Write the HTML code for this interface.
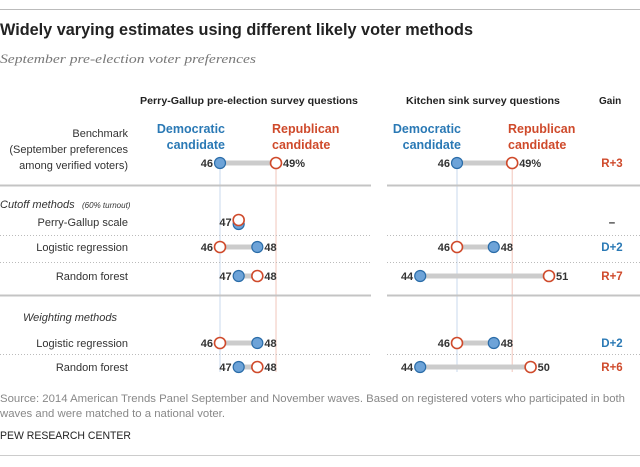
<!DOCTYPE html>
<html><head><meta charset="utf-8"><style>
body{margin:0;background:#fff;}
svg{display:block;font-family:"Liberation Sans",sans-serif;}
</style></head><body>
<svg id="c" width="640" height="467" viewBox="0 0 640 467">
<line x1="0" y1="9.5" x2="640" y2="9.5" stroke="#bbb"/>
<text x="0" y="35" font-size="17" font-weight="bold" fill="#222" textLength="473" lengthAdjust="spacingAndGlyphs">Widely varying estimates using different likely voter methods</text>
<text x="0" y="63" font-size="13" font-style="italic" fill="#777" font-family="Liberation Serif,serif" textLength="256" lengthAdjust="spacingAndGlyphs">September pre-election voter preferences</text>
<text x="140" y="104" font-size="10" font-weight="bold" fill="#222" textLength="218" lengthAdjust="spacingAndGlyphs">Perry-Gallup pre-election survey questions</text>
<text x="406" y="104" font-size="10" font-weight="bold" fill="#222" textLength="154" lengthAdjust="spacingAndGlyphs">Kitchen sink survey questions</text>
<text x="599" y="104" font-size="10" font-weight="bold" fill="#222">Gain</text>
<g id="g"></g>
<text x="0" y="402" font-size="11" fill="#888" textLength="625" lengthAdjust="spacingAndGlyphs">Source: 2014 American Trends Panel September and November waves. Based on registered voters who participated in both</text>
<text x="0" y="417" font-size="11" fill="#888" textLength="225" lengthAdjust="spacingAndGlyphs">waves and were matched to a national voter.</text>
<text x="0" y="439" font-size="11" fill="#222" textLength="131" lengthAdjust="spacingAndGlyphs">PEW RESEARCH CENTER</text>
<line x1="0" y1="455.5" x2="640" y2="455.5" stroke="#ccc"/>
</svg>
<script>
const rowLabels=["Benchmark","Perry-Gallup scale","Logistic regression","Random forest","Logistic regression","Random forest"];
const rowY=[163,222,247,276,343,367];
const leftDem=[46,47,48,47,48,47];
const leftRep=[49,47,46,48,46,48];
const rightDem=[46,null,48,44,48,44];
const rightRep=[49,null,46,51,46,50];
const gains=["R+3","–","D+2","R+7","D+2","R+6"];
const NS="http://www.w3.org/2000/svg";
const g=document.getElementById('g');
const BLUE="#2a79b5",RED="#cf4a2b";
function xL(v){return 220+(v-46)*18.67;}
function xR(v){return 457+(v-46)*18.4;}
function mk(t,a,txt){const e=document.createElementNS(NS,t);for(const k in a)e.setAttribute(k,a[k]);if(txt!=null)e.textContent=txt;g.appendChild(e);return e;}
let e;
e=mk('line',{x1:xL(46),y1:163,x2:xL(46),y2:372,stroke:'#c8d9ee'});


e=mk('line',{x1:xL(49),y1:163,x2:xL(49),y2:372,stroke:'#f2c6bb'});


e=mk('line',{x1:xR(46),y1:163,x2:xR(46),y2:372,stroke:'#c8d9ee'});


e=mk('line',{x1:xR(49),y1:163,x2:xR(49),y2:372,stroke:'#f2c6bb'});


[[185.5,'solid'],[235.5,'dot'],[262.5,'dot'],[295.5,'solid'],[354.5,'dot']].forEach(([y,s])=>{
  [[0,371],[387,640]].forEach(([a,b])=>{
    const l=mk('line',{x1:a,y1:y,x2:b,y2:y,stroke:s=='solid'?'#c4c4c4':'#bbb','stroke-width':s=='solid'?2:1,'stroke-dasharray':s=='solid'?'none':'1 2'});
    
    
  });
});
[[225,'end',BLUE,'Democratic','candidate'],[272,'start',RED,'Republican','candidate'],[461,'end',BLUE,'Democratic','candidate'],[508,'start',RED,'Republican','candidate']].forEach(([x,an,c,a,b])=>{
  const t1=mk('text',{x:x,y:133,'font-size':12.5,'font-weight':'bold',fill:c,'text-anchor':an},a);
  
  
  const t2=mk('text',{x:x,y:149,'font-size':12.5,'font-weight':'bold',fill:c,'text-anchor':an},b);
  
  
});
const lt=[["Benchmark",137],["(September preferences",153],["among verified voters)",169]];
lt.forEach(([s,y])=>{const t=mk('text',{x:128,y:y,'font-size':11,fill:'#333','text-anchor':'end'},s);
  
  });
e=mk('text',{x:0,y:208,'font-size':11,'font-style':'italic',fill:'#333'},'Cutoff methods ');


e=mk('text',{x:82,y:208,'font-size':8,'font-style':'italic',fill:'#333'},'(60% turnout)');


e=mk('text',{x:23,y:321,'font-size':11,'font-style':'italic',fill:'#333'},'Weighting methods');


rowLabels.forEach((s,i)=>{ if(i==0)return;
  const t=mk('text',{x:128,y:rowY[i]+4,'font-size':11,fill:'#333','text-anchor':'end'},s);
  
  
});
function dumb(xf,d,r,y,pct,side){
  if(d==null)return;
  const a=Math.min(xf(d),xf(r)),b=Math.max(xf(d),xf(r));
  const bar=mk('line',{x1:a,y1:y,x2:b,y2:y,stroke:'#ccc','stroke-width':5});
  
  
  const dc=mk('circle',{cx:xf(d),cy:y+(d==r?2:0),r:5.5,fill:'#6da3d8',stroke:'#2a6ca8','stroke-width':1.2});
  
  
  const rc=mk('circle',{cx:xf(r),cy:y-(d==r?2:0),r:5.5,fill:'#fff',stroke:RED,'stroke-width':1.6});
  
  
  const lo=Math.min(d,r),hi=Math.max(d,r);
  const t1=mk('text',{x:xf(lo)-7,y:y+4,'font-size':11,'font-weight':'bold',fill:'#333','text-anchor':'end'},String(lo));
  
  
  if(d!=r){
    const t2=mk('text',{x:xf(hi)+7,y:y+4,'font-size':11,'font-weight':'bold',fill:'#333'},hi+(pct?'%':''));
    
    
  }
}
rowY.forEach((y,i)=>{
  dumb(xL,leftDem[i],leftRep[i],y,i==0,'left');
  dumb(xR,rightDem[i],rightRep[i],y,i==0,'right');
  const gs=gains[i];
  const c=gs[0]=='R'?RED:gs[0]=='D'?BLUE:'#333';
  const t=mk('text',{x:612,y:y+4,'font-size':11.5,'font-weight':'bold',fill:c,'text-anchor':'middle'},gs);
  
  
});
</script>
</body></html>
